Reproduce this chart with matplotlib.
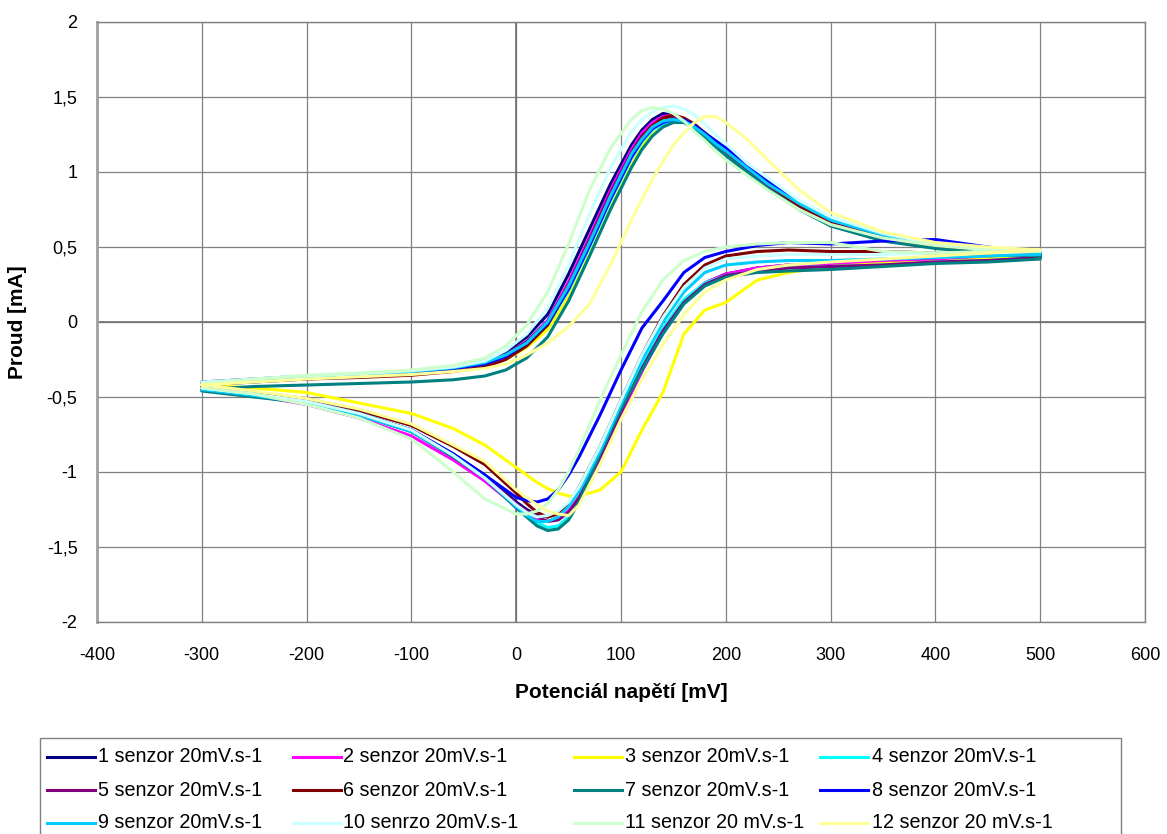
import matplotlib
matplotlib.use("Agg")
import matplotlib.pyplot as plt
from matplotlib.lines import Line2D
from matplotlib.patches import Rectangle

plt.rcParams['font.family'] = ['Liberation Sans', 'DejaVu Sans']

# Potential grids (mV): forward sweep and reverse sweep
E_fwd = [-300, -250, -200, -150, -100, -60, -30, -10, 10, 30, 50, 70, 90, 110, 120, 130,
         140, 150, 160, 170, 180, 190, 200, 220, 240, 270, 300, 350, 400, 450, 500]
E_rev = [500, 450, 400, 350, 300, 260, 230, 200, 180, 160, 140, 120, 100, 80, 60, 50,
         40, 30, 20, 10, 0, -30, -60, -100, -150, -200, -250, -300]

labels = ["1 senzor 20mV.s-1", "2 senzor 20mV.s-1", "3 senzor 20mV.s-1", "4 senzor 20mV.s-1",
          "5 senzor 20mV.s-1", "6 senzor 20mV.s-1", "7 senzor 20mV.s-1", "8 senzor 20mV.s-1",
          "9 senzor 20mV.s-1", "10 senrzo 20mV.s-1", "11 senzor 20 mV.s-1", "12 senzor 20 mV.s-1"]
colors = ["#000080", "#FF00FF", "#FFFF00", "#00FFFF", "#800080", "#800000",
          "#008080", "#0000FF", "#00CCFF", "#CCFFFF", "#CCFFCC", "#FFFF99"]

# Current (mA) on the forward sweep
I_fwd_1 = [-0.40, -0.38, -0.36, -0.345, -0.325, -0.30, -0.26, -0.20, -0.10, 0.05, 0.32, 0.62, 0.92, 1.18, 1.28, 1.35, 1.39, 1.38, 1.35, 1.31, 1.26, 1.20, 1.15, 1.04, 0.93, 0.78, 0.66, 0.56, 0.51, 0.48, 0.46]
I_fwd_2 = [-0.41, -0.39, -0.37, -0.355, -0.335, -0.31, -0.27, -0.22, -0.13, 0.01, 0.27, 0.57, 0.88, 1.15, 1.26, 1.33, 1.37, 1.38, 1.35, 1.31, 1.25, 1.19, 1.13, 1.02, 0.91, 0.77, 0.65, 0.55, 0.50, 0.47, 0.45]
I_fwd_3 = [-0.42, -0.40, -0.38, -0.36, -0.34, -0.32, -0.29, -0.25, -0.17, -0.05, 0.17, 0.45, 0.76, 1.05, 1.17, 1.27, 1.32, 1.35, 1.35, 1.31, 1.26, 1.21, 1.15, 1.04, 0.94, 0.79, 0.67, 0.56, 0.51, 0.48, 0.46]
I_fwd_4 = [-0.42, -0.40, -0.38, -0.36, -0.34, -0.32, -0.29, -0.24, -0.15, -0.02, 0.21, 0.50, 0.81, 1.09, 1.20, 1.28, 1.32, 1.34, 1.33, 1.29, 1.24, 1.18, 1.13, 1.02, 0.91, 0.77, 0.66, 0.56, 0.50, 0.47, 0.45]
I_fwd_5 = [-0.42, -0.40, -0.38, -0.36, -0.34, -0.31, -0.28, -0.22, -0.13, 0.00, 0.25, 0.55, 0.86, 1.13, 1.24, 1.31, 1.36, 1.37, 1.34, 1.30, 1.24, 1.18, 1.12, 1.01, 0.90, 0.76, 0.65, 0.55, 0.50, 0.47, 0.45]
I_fwd_6 = [-0.41, -0.39, -0.38, -0.37, -0.355, -0.33, -0.30, -0.25, -0.16, -0.02, 0.23, 0.53, 0.84, 1.12, 1.23, 1.31, 1.36, 1.38, 1.36, 1.32, 1.26, 1.20, 1.14, 1.03, 0.92, 0.77, 0.66, 0.56, 0.50, 0.47, 0.45]
I_fwd_7 = [-0.45, -0.43, -0.42, -0.41, -0.40, -0.385, -0.36, -0.32, -0.24, -0.10, 0.14, 0.44, 0.75, 1.03, 1.15, 1.24, 1.30, 1.33, 1.33, 1.29, 1.23, 1.17, 1.11, 1.00, 0.89, 0.75, 0.64, 0.54, 0.49, 0.46, 0.44]
I_fwd_8 = [-0.41, -0.39, -0.37, -0.355, -0.335, -0.31, -0.28, -0.23, -0.14, -0.01, 0.22, 0.51, 0.82, 1.10, 1.21, 1.29, 1.33, 1.35, 1.35, 1.31, 1.26, 1.21, 1.16, 1.05, 0.94, 0.80, 0.68, 0.58, 0.52, 0.49, 0.47]
I_fwd_9 = [-0.41, -0.39, -0.37, -0.35, -0.33, -0.305, -0.27, -0.22, -0.14, 0.00, 0.24, 0.53, 0.84, 1.12, 1.22, 1.30, 1.34, 1.35, 1.34, 1.30, 1.25, 1.19, 1.14, 1.03, 0.92, 0.79, 0.68, 0.58, 0.52, 0.49, 0.47]
I_fwd_10 = [-0.40, -0.38, -0.36, -0.345, -0.325, -0.30, -0.26, -0.19, -0.08, 0.09, 0.38, 0.72, 1.03, 1.27, 1.35, 1.40, 1.43, 1.44, 1.42, 1.38, 1.32, 1.25, 1.19, 1.06, 0.96, 0.81, 0.70, 0.59, 0.52, 0.49, 0.48]
I_fwd_11 = [-0.41, -0.38, -0.355, -0.34, -0.32, -0.29, -0.24, -0.16, -0.02, 0.20, 0.52, 0.88, 1.16, 1.35, 1.41, 1.43, 1.42, 1.39, 1.34, 1.27, 1.21, 1.14, 1.08, 0.98, 0.88, 0.75, 0.65, 0.56, 0.51, 0.48, 0.47]
I_fwd_12 = [-0.42, -0.40, -0.38, -0.365, -0.35, -0.33, -0.31, -0.28, -0.22, -0.14, -0.03, 0.12, 0.38, 0.68, 0.82, 0.95, 1.07, 1.18, 1.26, 1.33, 1.37, 1.37, 1.33, 1.22, 1.08, 0.88, 0.73, 0.60, 0.53, 0.50, 0.48]

# Current (mA) on the reverse sweep
I_rev_1 = [0.44, 0.42, 0.41, 0.40, 0.39, 0.38, 0.36, 0.32, 0.26, 0.14, -0.05, -0.30, -0.58, -0.88, -1.12, -1.21, -1.27, -1.30, -1.29, -1.25, -1.20, -1.02, -0.88, -0.72, -0.61, -0.53, -0.48, -0.44]
I_rev_2 = [0.44, 0.42, 0.41, 0.40, 0.39, 0.38, 0.36, 0.32, 0.26, 0.13, -0.07, -0.33, -0.62, -0.92, -1.17, -1.26, -1.31, -1.33, -1.31, -1.27, -1.23, -1.06, -0.92, -0.76, -0.64, -0.55, -0.49, -0.45]
I_rev_3 = [0.44, 0.42, 0.40, 0.39, 0.37, 0.33, 0.28, 0.13, 0.08, -0.08, -0.47, -0.72, -1.00, -1.12, -1.16, -1.16, -1.14, -1.11, -1.07, -1.02, -0.97, -0.82, -0.71, -0.61, -0.54, -0.47, -0.44, -0.42]
I_rev_4 = [0.43, 0.41, 0.40, 0.38, 0.37, 0.36, 0.34, 0.31, 0.26, 0.15, -0.04, -0.28, -0.55, -0.85, -1.18, -1.30, -1.36, -1.37, -1.34, -1.28, -1.22, -1.03, -0.89, -0.72, -0.61, -0.53, -0.48, -0.45]
I_rev_5 = [0.43, 0.41, 0.40, 0.38, 0.37, 0.36, 0.34, 0.31, 0.25, 0.13, -0.06, -0.31, -0.60, -0.90, -1.17, -1.27, -1.32, -1.33, -1.30, -1.26, -1.21, -1.03, -0.89, -0.73, -0.62, -0.54, -0.49, -0.45]
I_rev_6 = [0.44, 0.45, 0.46, 0.47, 0.47, 0.48, 0.47, 0.44, 0.38, 0.25, 0.04, -0.22, -0.52, -0.83, -1.10, -1.21, -1.28, -1.30, -1.27, -1.21, -1.14, -0.95, -0.83, -0.69, -0.59, -0.51, -0.47, -0.43]
I_rev_7 = [0.42, 0.40, 0.39, 0.37, 0.35, 0.34, 0.33, 0.30, 0.24, 0.12, -0.08, -0.32, -0.58, -0.88, -1.20, -1.32, -1.38, -1.39, -1.36, -1.30, -1.24, -1.04, -0.90, -0.73, -0.62, -0.54, -0.50, -0.46]
I_rev_8 = [0.46, 0.50, 0.55, 0.54, 0.52, 0.53, 0.51, 0.47, 0.43, 0.33, 0.14, -0.04, -0.32, -0.62, -0.90, -1.02, -1.12, -1.18, -1.20, -1.19, -1.17, -1.02, -0.88, -0.72, -0.61, -0.53, -0.48, -0.44]
I_rev_9 = [0.45, 0.44, 0.43, 0.42, 0.41, 0.41, 0.40, 0.38, 0.33, 0.20, 0.00, -0.25, -0.55, -0.86, -1.13, -1.23, -1.30, -1.33, -1.33, -1.29, -1.23, -1.04, -0.89, -0.73, -0.62, -0.54, -0.49, -0.45]
I_rev_10 = [0.47, 0.46, 0.46, 0.45, 0.45, 0.45, 0.44, 0.42, 0.36, 0.23, 0.03, -0.22, -0.52, -0.83, -1.10, -1.20, -1.26, -1.29, -1.30, -1.27, -1.22, -1.04, -0.89, -0.72, -0.61, -0.53, -0.48, -0.44]
I_rev_11 = [0.47, 0.47, 0.46, 0.47, 0.53, 0.53, 0.52, 0.50, 0.47, 0.41, 0.28, 0.07, -0.22, -0.52, -0.85, -1.00, -1.12, -1.21, -1.26, -1.28, -1.28, -1.18, -1.00, -0.78, -0.64, -0.55, -0.48, -0.44]
I_rev_12 = [0.48, 0.46, 0.44, 0.42, 0.40, 0.38, 0.35, 0.28, 0.20, 0.05, -0.15, -0.38, -0.65, -0.95, -1.22, -1.29, -1.28, -1.26, -1.22, -1.17, -1.12, -0.93, -0.82, -0.68, -0.58, -0.51, -0.46, -0.42]

I_fwd = [I_fwd_1, I_fwd_2, I_fwd_3, I_fwd_4, I_fwd_5, I_fwd_6,
         I_fwd_7, I_fwd_8, I_fwd_9, I_fwd_10, I_fwd_11, I_fwd_12]
I_rev = [I_rev_1, I_rev_2, I_rev_3, I_rev_4, I_rev_5, I_rev_6,
         I_rev_7, I_rev_8, I_rev_9, I_rev_10, I_rev_11, I_rev_12]

x_ticks = [-400, -300, -200, -100, 0, 100, 200, 300, 400, 500, 600]
x_tick_labels = ["-400", "-300", "-200", "-100", "0", "100", "200", "300", "400", "500", "600"]
y_ticks = [-2, -1.5, -1, -0.5, 0, 0.5, 1, 1.5, 2]
y_tick_labels = ["-2", "-1,5", "-1", "-0,5", "0", "0,5", "1", "1,5", "2"]

W, H = 1167, 834
fig = plt.figure(figsize=(W / 100, H / 100), dpi=100)
ax = fig.add_axes([97 / W, 1 - 622 / H, (1145 - 97) / W, 600 / H])

handles = []
for i in range(12):
    ex = E_fwd + E_rev
    iy = I_fwd[i] + I_rev[i]
    ln, = ax.plot(ex, iy, color=colors[i], lw=2.2, label=labels[i],
                  solid_joinstyle='round', solid_capstyle='round', zorder=3 + i)
    handles.append(ln)

ax.set_xlim(-400, 600)
ax.set_ylim(-2, 2)
ax.set_xticks(x_ticks)
ax.set_xticklabels(x_tick_labels)
ax.set_yticks(y_ticks)
ax.set_yticklabels(y_tick_labels)
ax.tick_params(axis='both', length=0, labelsize=13)
ax.tick_params(axis='x', pad=18)
ax.tick_params(axis='y', pad=14)
ax.grid(True, color='#808080', lw=0.9)
ax.set_axisbelow(True)
for s in ax.spines.values():
    s.set_color('#808080')
    s.set_linewidth(1.0)
ax.spines['left'].set_linewidth(2.0)
ax.spines['left'].set_color('#a0a0a0')
ax.axvline(0, color='#707070', lw=1.2, zorder=1)
ax.axhline(0, color='#707070', lw=1.2, zorder=1)

ax.set_xlabel("Potenciál napětí [mV]", fontsize=15, fontweight='bold')
ax.xaxis.set_label_coords(0.5, -(683 - 622) / 600)
ax.set_ylabel("Proud [mA]", fontsize=15, fontweight='bold')
ax.yaxis.set_label_coords(-(97 - 27) / 1048, 0.5)

# Legend (4 columns x 3 rows, row-wise order as in the original)
frame = Rectangle((40 / W, 1 - 840 / H), (1121 - 40) / W, (840 - 738) / H,
                  transform=fig.transFigure, facecolor='white', edgecolor='#808080',
                  lw=1.0, zorder=20)
fig.add_artist(frame)
col_line_x = [47, 293, 574, 820]
col_text_x = [98, 343, 625, 872]
row_y = [757, 790, 823]
for k in range(12):
    r, c = divmod(k, 4)
    yf = 1 - row_y[r] / H
    fig.add_artist(Line2D([col_line_x[c] / W, (col_line_x[c] + 48) / W], [yf, yf],
                          transform=fig.transFigure, color=colors[k], lw=2.2, zorder=21))
    fig.text(col_text_x[c] / W, yf, labels[k], fontsize=14.2, va='center', ha='left',
             zorder=22)

fig.savefig("out.png", dpi=100)
